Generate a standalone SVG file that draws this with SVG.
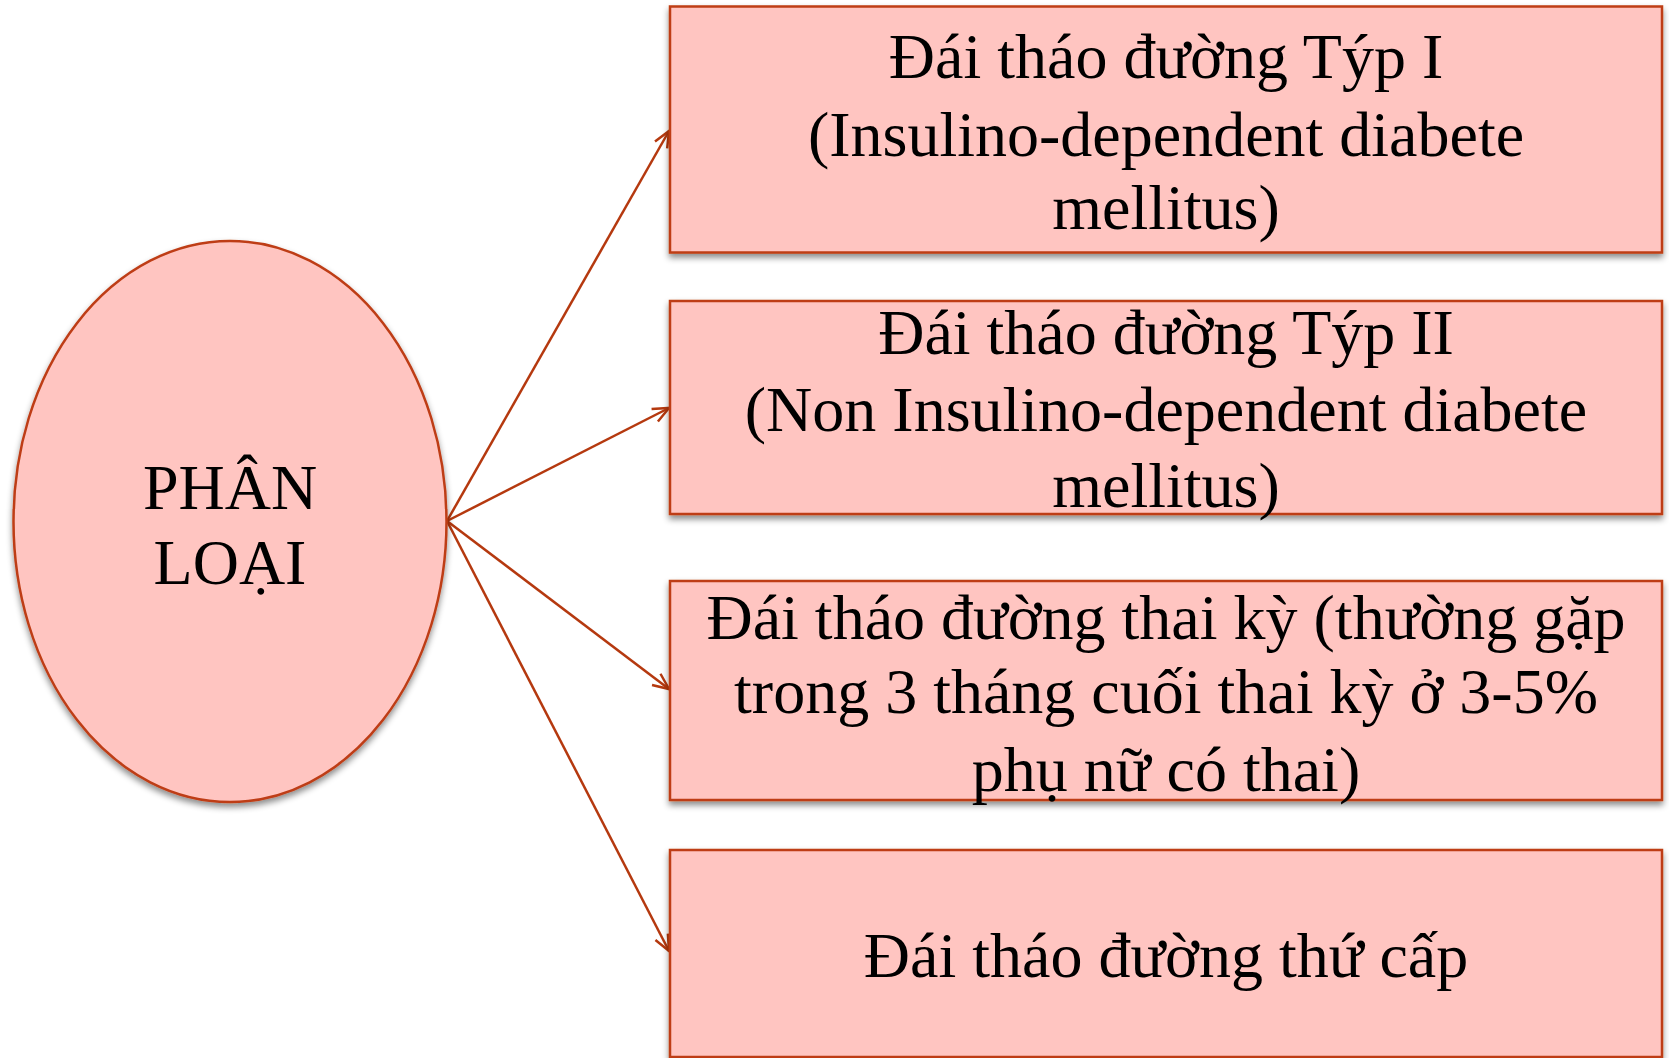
<svg xmlns="http://www.w3.org/2000/svg" width="1669" height="1058" viewBox="0 0 1669 1058">
<style>
.shape{fill:#FFC5C1;stroke:#BE3D16;stroke-width:2.5;filter:url(#sh)}
.t{font-family:"Liberation Serif","Times New Roman",serif;font-size:64px;fill:#000;text-anchor:middle}
.conn{stroke:#B5390F;stroke-width:2.5;fill:none;marker-end:url(#arr)}
</style>
<defs>
<filter id="sh" x="-5%" y="-5%" width="110%" height="115%">
<feDropShadow dx="0" dy="4" stdDeviation="3" flood-color="#000" flood-opacity="0.45"/>
</filter>
<marker id="arr" viewBox="0 0 20 20" refX="18" refY="10" markerWidth="20" markerHeight="20" markerUnits="userSpaceOnUse" orient="auto">
<path d="M2,3 L18,10 L2,17" fill="none" stroke="#B5390F" stroke-width="2.5"/>
</marker>
</defs>
<rect width="1669" height="1058" fill="#fff"/>
<g id="connectors">
<line class="conn" x1="447" y1="521" x2="669" y2="131"/>
<line class="conn" x1="447" y1="521" x2="669" y2="408"/>
<line class="conn" x1="447" y1="521" x2="669" y2="689"/>
<line class="conn" x1="447" y1="521" x2="669" y2="951"/>
</g>
<g id="node-phanloai">
<ellipse class="shape" cx="230" cy="521.5" rx="216.5" ry="280.5"/>
<text class="t" x="230" y="509">PHÂN</text>
<text class="t" x="230" y="584">LOẠI</text>
</g>
<g id="node-typ1">
<rect class="shape" x="670" y="6.5" width="992" height="246"/>
<text class="t" x="1166" y="78">Đái tháo đường Týp I</text>
<text class="t" x="1166" y="156">(Insulino-dependent diabete</text>
<text class="t" x="1166" y="229">mellitus)</text>
</g>
<g id="node-typ2">
<rect class="shape" x="670" y="301" width="992" height="213"/>
<text class="t" x="1166" y="354">Đái tháo đường Týp II</text>
<text class="t" x="1166" y="431">(Non Insulino-dependent diabete</text>
<text class="t" x="1166" y="507">mellitus)</text>
</g>
<g id="node-thaiky">
<rect class="shape" x="670" y="581" width="992" height="219"/>
<text class="t" x="1166" y="639">Đái tháo đường thai kỳ (thường gặp</text>
<text class="t" x="1166" y="713">trong 3 tháng cuối thai kỳ ở 3-5%</text>
<text class="t" x="1166" y="791">phụ nữ có thai)</text>
</g>
<g id="node-thucap">
<rect class="shape" x="670" y="850" width="992" height="207"/>
<text class="t" x="1166" y="977">Đái tháo đường thứ cấp</text>
</g>
</svg>
